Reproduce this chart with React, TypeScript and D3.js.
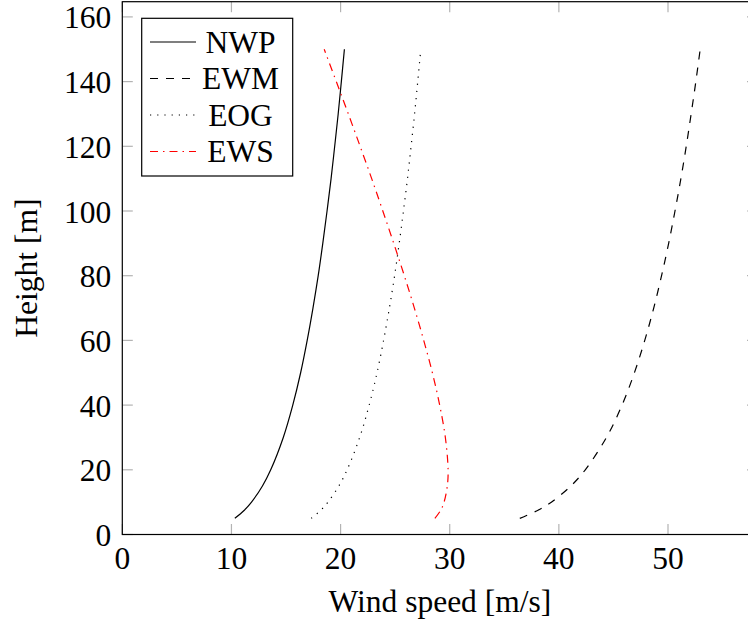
import React from 'react';
import * as d3 from 'd3';

const heights = [5, 7.5, 10, 15, 20, 30, 40, 50, 60, 70, 80, 90, 100, 110, 120, 130, 140, 150];
const nwp = [10.31, 11.18, 11.84, 12.84, 13.6, 14.75, 15.62, 16.34, 16.94, 17.47, 17.95, 18.37, 18.76, 19.13, 19.46, 19.78, 20.07, 20.35];
const ewm = [36.42, 38.09, 39.31, 41.1, 42.42, 44.36, 45.79, 46.92, 47.87, 48.69, 49.41, 50.06, 50.64, 51.18, 51.67, 52.12, 52.55, 52.95];
const eog = [17.31, 18.18, 18.84, 19.84, 20.6, 21.75, 22.62, 23.34, 23.94, 24.47, 24.95, 25.37, 25.76, 26.13, 26.46, 26.78, 27.07, 27.35];
const ews = [28.64, 29.17, 29.48, 29.78, 29.85, 29.6, 29.08, 28.41, 27.62, 26.76, 25.84, 24.87, 23.87, 22.85, 21.79, 20.71, 19.61, 18.5];

const xTicks = [0, 10, 20, 30, 40, 50];
const yTicks = [0, 20, 40, 60, 80, 100, 120, 140, 160];

const seriesNames = ['NWP', 'EWM', 'EOG', 'EWS'];
const seriesValues = [nwp, ewm, eog, ews];
const seriesColors = ['#000', '#000', '#000', '#ff0000'];
const seriesDash = ['none', '8,8', '1.2,6', '8,5,1.5,5'];

const W = 748;
const H = 621;
const L = 122.3, R = 757.5, T = 1.7, B = 534.5;
const FONT = '"Liberation Serif", "Times New Roman", Times, serif';
const FS = 31.5;

export default function App() {
  const x = d3.scaleLinear().domain([0, 58.2]).range([L, R]);
  const y = d3.scaleLinear().domain([0, 164.7]).range([B, T]);
  const line = d3
    .line<[number, number]>()
    .x((d) => x(d[0]))
    .y((d) => y(d[1]))
    .curve(d3.curveCatmullRom.alpha(0.5));

  const tickLen = 10.5;
  const legX0 = 141.7, legX1 = 292.7, legY0 = 18.3, legY1 = 176;
  const rowY = [42, 78.5, 115, 151.5];

  return (
    <svg
      width={W}
      height={H}
      style={{ position: 'fixed', left: 0, top: 0, display: 'block', background: '#fff' }}
      fontFamily={FONT}
    >
      <rect x={0} y={0} width={W} height={H} fill="#fff" />
      {/* ticks */}
      <g stroke="#b3b3b3" strokeWidth={1.2}>
        {xTicks.map((t) => (
          <g key={'xt' + t}>
            <line x1={x(t)} x2={x(t)} y1={B} y2={B - tickLen} />
            <line x1={x(t)} x2={x(t)} y1={T} y2={T + tickLen} />
          </g>
        ))}
        {yTicks.map((t) => (
          <g key={'yt' + t}>
            <line x1={L} x2={L + tickLen} y1={y(t)} y2={y(t)} />
            <line x1={R} x2={R - tickLen} y1={y(t)} y2={y(t)} />
          </g>
        ))}
      </g>
      {/* curves */}
      {seriesValues.map((vals, i) => (
        <path
          key={seriesNames[i]}
          d={line(vals.map((v, k) => [v, heights[k]] as [number, number])) || ''}
          fill="none"
          stroke={seriesColors[i]}
          strokeWidth={1.2}
          strokeDasharray={seriesDash[i]}
        />
      ))}
      {/* axes frame */}
      <rect x={L} y={T} width={R - L} height={B - T} fill="none" stroke="#000" strokeWidth={1.2} />
      {/* tick labels */}
      <g fontSize={FS} fill="#000">
        {xTicks.map((t) => (
          <text key={'xl' + t} x={x(t)} y={B + 34} textAnchor="middle">
            {t}
          </text>
        ))}
        {yTicks.map((t) => (
          <text key={'yl' + t} x={L - 11} y={y(t) + 11.5} textAnchor="end">
            {t}
          </text>
        ))}
      </g>
      {/* axis labels */}
      <text x={(L + R) / 2} y={611.5} textAnchor="middle" fontSize={FS} fill="#000">
        Wind speed [m/s]
      </text>
      <text
        transform={`translate(36.7,${(T + B) / 2}) rotate(-90)`}
        textAnchor="middle"
        fontSize={FS}
        fill="#000"
      >
        Height [m]
      </text>
      {/* legend */}
      <rect x={legX0} y={legY0} width={legX1 - legX0} height={legY1 - legY0} fill="#fff" stroke="#000" strokeWidth={1.2} />
      {seriesNames.map((n, i) => (
        <g key={'lg' + n}>
          <line
            x1={150}
            x2={196}
            y1={rowY[i]}
            y2={rowY[i]}
            stroke={seriesColors[i]}
            strokeWidth={1.2}
            strokeDasharray={seriesDash[i]}
          />
          <text x={240.5} y={rowY[i] + 10.5} textAnchor="middle" fontSize={FS} fill="#000">
            {n}
          </text>
        </g>
      ))}
    </svg>
  );
}
